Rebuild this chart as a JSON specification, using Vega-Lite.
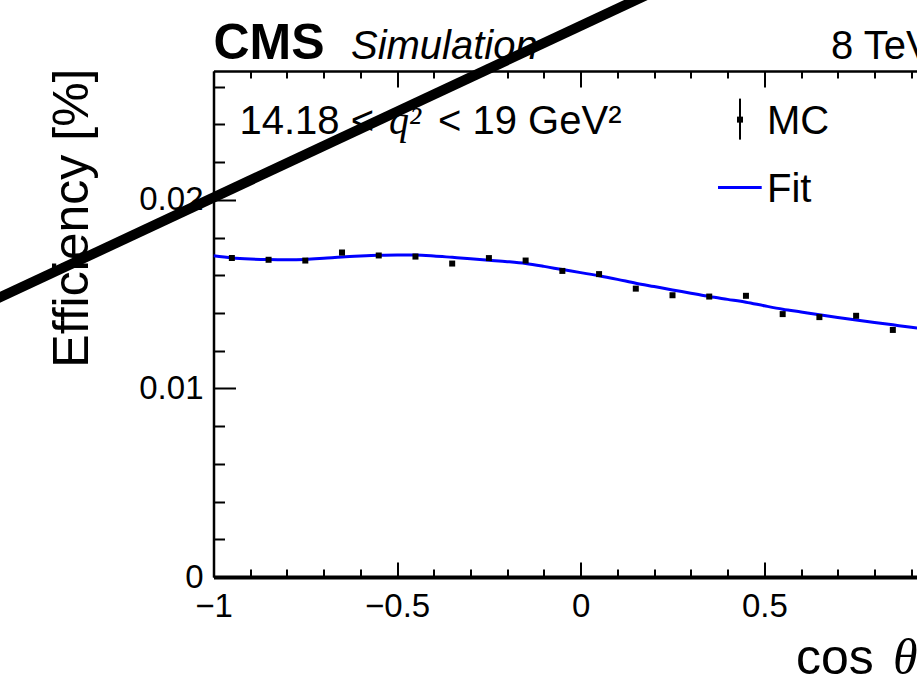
{
  "$schema": "https://vega.github.io/schema/vega-lite/v6.json",
  "width": 703.5,
  "height": 506,
  "autosize": {"type": "none"},
  "padding": {"left": 213.5, "top": 71, "right": 0, "bottom": 107},
  "background": "white",
  "config": {
    "view": {"stroke": null},
    "font": "Liberation Sans",
    "axis": {"labelFont": "Liberation Sans", "titleFont": "Liberation Sans", "labelColor": "black", "titleColor": "black", "domainColor": "black", "tickColor": "black", "grid": false}
  },
  "datasets": {
    "mc": [
      {"cos": -0.95, "eff": 0.01691},
      {"cos": -0.85, "eff": 0.01682},
      {"cos": -0.75, "eff": 0.01678},
      {"cos": -0.65, "eff": 0.01720},
      {"cos": -0.55, "eff": 0.01705},
      {"cos": -0.45, "eff": 0.01699},
      {"cos": -0.35, "eff": 0.01662},
      {"cos": -0.25, "eff": 0.01691},
      {"cos": -0.15, "eff": 0.01678},
      {"cos": -0.05, "eff": 0.01623},
      {"cos": 0.05, "eff": 0.01606},
      {"cos": 0.15, "eff": 0.01529},
      {"cos": 0.25, "eff": 0.01494},
      {"cos": 0.35, "eff": 0.01487},
      {"cos": 0.45, "eff": 0.01491},
      {"cos": 0.55, "eff": 0.01394},
      {"cos": 0.65, "eff": 0.01378},
      {"cos": 0.75, "eff": 0.01385},
      {"cos": 0.85, "eff": 0.01310}
    ],
    "fit": [
      {"cos": -1.0, "eff": 0.01703},
      {"cos": -0.95, "eff": 0.01692},
      {"cos": -0.9, "eff": 0.01686},
      {"cos": -0.85, "eff": 0.01683},
      {"cos": -0.8, "eff": 0.01682},
      {"cos": -0.75, "eff": 0.01684},
      {"cos": -0.7, "eff": 0.01690},
      {"cos": -0.65, "eff": 0.01697},
      {"cos": -0.6, "eff": 0.01702},
      {"cos": -0.55, "eff": 0.01706},
      {"cos": -0.5, "eff": 0.01708},
      {"cos": -0.45, "eff": 0.01707},
      {"cos": -0.4, "eff": 0.01702},
      {"cos": -0.35, "eff": 0.01695},
      {"cos": -0.3, "eff": 0.01688},
      {"cos": -0.25, "eff": 0.01680},
      {"cos": -0.2, "eff": 0.01672},
      {"cos": -0.15, "eff": 0.01662},
      {"cos": -0.1, "eff": 0.01647},
      {"cos": -0.05, "eff": 0.01630},
      {"cos": 0.0, "eff": 0.01614},
      {"cos": 0.05, "eff": 0.01597},
      {"cos": 0.1, "eff": 0.01578},
      {"cos": 0.15, "eff": 0.01558},
      {"cos": 0.2, "eff": 0.01540},
      {"cos": 0.25, "eff": 0.01522},
      {"cos": 0.3, "eff": 0.01505},
      {"cos": 0.35, "eff": 0.01487},
      {"cos": 0.4, "eff": 0.01472},
      {"cos": 0.45, "eff": 0.01457},
      {"cos": 0.5, "eff": 0.01438},
      {"cos": 0.55, "eff": 0.01420},
      {"cos": 0.6, "eff": 0.01405},
      {"cos": 0.65, "eff": 0.01390},
      {"cos": 0.7, "eff": 0.01376},
      {"cos": 0.75, "eff": 0.01363},
      {"cos": 0.8, "eff": 0.01350},
      {"cos": 0.85, "eff": 0.01337},
      {"cos": 0.9, "eff": 0.01324},
      {"cos": 0.95, "eff": 0.01312}
    ],
    "stroke": [
      {"cos": -1.6359, "eff": 0.014332},
      {"cos": 0.2067, "eff": 0.031108}
    ],
    "one": [{}]
  },
  "resolve": {"axis": {"x": "independent", "y": "independent"}},
  "layer": [
    {
      "data": {"name": "fit"},
      "mark": {"type": "line", "interpolate": "monotone", "stroke": "#0000ff", "strokeWidth": 3, "clip": true},
      "encoding": {
        "x": {"field": "cos", "type": "quantitative",
          "scale": {"domain": [-1, 0.9158], "nice": false, "zero": false},
          "axis": {"orient": "top", "title": null, "labels": false,
            "values": [-1,-0.9,-0.8,-0.7,-0.6,-0.5,-0.4,-0.3,-0.2,-0.1,0,0.1,0.2,0.3,0.4,0.5,0.6,0.7,0.8,0.9],
            "tickSize": {"condition": {"test": "datum.value == -1 || datum.value == -0.5 || datum.value == 0 || datum.value == 0.5", "value": -16}, "value": -7},
            "tickWidth": 2, "domainWidth": 2.5}},
        "y": {"field": "eff", "type": "quantitative",
          "scale": {"domain": [0, 0.02683], "nice": false, "zero": false},
          "axis": {"orient": "left", "title": "Efficiency [%]", "titleFontSize": 50, "titleFontWeight": "normal",
            "titleAngle": -90, "titleAlign": "right", "titleBaseline": "alphabetic", "titleX": -126, "titleY": -3,
            "values": [0, 0.01, 0.02],
            "labelExpr": "datum.value == 0 ? '0' : datum.value == 0.01 ? '0.01' : '0.02'",
            "labelFontSize": 33, "labelFlush": false, "labelOverlap": false, "labelBound": false,
            "labelPadding": 32.5, "labelBaseline": "middle",
            "tickSize": -22,
            "tickWidth": 2, "domainWidth": 2.5}}
      }
    },
    {
      "data": {"name": "mc"},
      "mark": {"type": "point", "shape": "square", "filled": true, "color": "black", "size": 36, "opacity": 1, "clip": true},
      "encoding": {
        "x": {"field": "cos", "type": "quantitative",
          "scale": {"domain": [-1, 0.9158], "nice": false, "zero": false},
          "axis": {"orient": "bottom", "title": null,
            "values": [-1,-0.9,-0.8,-0.7,-0.6,-0.5,-0.4,-0.3,-0.2,-0.1,0,0.1,0.2,0.3,0.4,0.5,0.6,0.7,0.8,0.9],
            "labelExpr": "datum.value == -1 ? '−1' : datum.value == -0.5 ? '−0.5' : datum.value == 0 ? '0' : datum.value == 0.5 ? '0.5' : ''",
            "labelFontSize": 33, "labelFlush": false, "labelOverlap": false, "labelBound": false,
            "labelPadding": 28.5, "labelBaseline": "top",
            "tickSize": {"condition": {"test": "datum.value == -1 || datum.value == -0.5 || datum.value == 0 || datum.value == 0.5", "value": -15}, "value": -8},
            "tickWidth": 2, "domainWidth": 4}},
        "y": {"field": "eff", "type": "quantitative",
          "scale": {"domain": [0, 0.02683], "nice": false, "zero": false},
          "axis": {"orient": "left", "title": null, "labels": false, "domain": false,
            "values": [0.002,0.004,0.006,0.008,0.012,0.014,0.016,0.018,0.022,0.024,0.026],
            "tickSize": -11, "tickWidth": 2}}
      }
    },
    {
      "data": {"name": "one"},
      "mark": {"type": "text", "text": "cos", "font": "Liberation Sans", "fontSize": 50, "align": "left", "baseline": "alphabetic", "clip": false},
      "encoding": {"x": {"datum": 0.5863, "type": "quantitative", "axis": null}, "y": {"datum": -0.005159, "type": "quantitative", "axis": null}}
    },
    {
      "data": {"name": "one"},
      "mark": {"type": "text", "text": "θ", "font": "Liberation Serif", "fontStyle": "italic", "fontSize": 50, "align": "left", "baseline": "alphabetic", "clip": false},
      "encoding": {"x": {"datum": 0.8505, "type": "quantitative", "axis": null}, "y": {"datum": -0.005159, "type": "quantitative", "axis": null}}
    },
    {
      "data": {"name": "one"},
      "mark": {"type": "text", "text": "CMS", "font": "Liberation Sans", "fontWeight": "bold", "fontSize": 50, "align": "left", "baseline": "alphabetic", "clip": false},
      "encoding": {"x": {"datum": -1.0, "type": "quantitative", "axis": null}, "y": {"datum": 0.027487, "type": "quantitative", "axis": null}}
    },
    {
      "data": {"name": "one"},
      "mark": {"type": "text", "text": "Simulation", "font": "Liberation Sans", "fontStyle": "italic", "fontSize": 40, "align": "left", "baseline": "alphabetic", "clip": false},
      "encoding": {"x": {"datum": -0.6256, "type": "quantitative", "axis": null}, "y": {"datum": 0.027487, "type": "quantitative", "axis": null}}
    },
    {
      "data": {"name": "one"},
      "mark": {"type": "text", "text": "8 TeV", "font": "Liberation Sans", "fontSize": 40, "align": "left", "baseline": "alphabetic", "clip": false},
      "encoding": {"x": {"datum": 0.6816, "type": "quantitative", "axis": null}, "y": {"datum": 0.027487, "type": "quantitative", "axis": null}}
    },
    {
      "data": {"name": "one"},
      "mark": {"type": "text", "text": "14.18 <", "font": "Liberation Sans", "fontSize": 40, "align": "left", "baseline": "alphabetic", "clip": false},
      "encoding": {"x": {"datum": -0.9292, "type": "quantitative", "axis": null}, "y": {"datum": 0.02351, "type": "quantitative", "axis": null}}
    },
    {
      "data": {"name": "one"},
      "mark": {"type": "text", "text": "q²", "font": "Liberation Serif", "fontStyle": "italic", "fontSize": 40, "align": "left", "baseline": "alphabetic", "clip": false},
      "encoding": {"x": {"datum": -0.5221, "type": "quantitative", "axis": null}, "y": {"datum": 0.02351, "type": "quantitative", "axis": null}}
    },
    {
      "data": {"name": "one"},
      "mark": {"type": "text", "text": "< 19 GeV²", "font": "Liberation Sans", "fontSize": 40, "align": "left", "baseline": "alphabetic", "clip": false},
      "encoding": {"x": {"datum": -0.3886, "type": "quantitative", "axis": null}, "y": {"datum": 0.02351, "type": "quantitative", "axis": null}}
    },
    {
      "data": {"name": "one"},
      "mark": {"type": "rule", "color": "black", "strokeWidth": 2, "clip": false},
      "encoding": {"x": {"datum": 0.4338, "type": "quantitative", "axis": null}, "y": {"datum": 0.025366, "type": "quantitative", "axis": null}, "y2": {"datum": 0.023192}}
    },
    {
      "data": {"name": "one"},
      "mark": {"type": "point", "shape": "square", "filled": true, "color": "black", "size": 36, "opacity": 1, "clip": false},
      "encoding": {"x": {"datum": 0.4338, "type": "quantitative", "axis": null}, "y": {"datum": 0.024252, "type": "quantitative", "axis": null}}
    },
    {
      "data": {"name": "one"},
      "mark": {"type": "text", "text": "MC", "font": "Liberation Sans", "fontSize": 40, "align": "left", "baseline": "alphabetic", "clip": false},
      "encoding": {"x": {"datum": 0.5074, "type": "quantitative", "axis": null}, "y": {"datum": 0.02351, "type": "quantitative", "axis": null}}
    },
    {
      "data": {"name": "one"},
      "mark": {"type": "rule", "color": "#0000ff", "strokeWidth": 3, "clip": false},
      "encoding": {"x": {"datum": 0.3739, "type": "quantitative", "axis": null}, "x2": {"datum": 0.4929}, "y": {"datum": 0.020647, "type": "quantitative", "axis": null}}
    },
    {
      "data": {"name": "one"},
      "mark": {"type": "text", "text": "Fit", "font": "Liberation Sans", "fontSize": 40, "align": "left", "baseline": "alphabetic", "clip": false},
      "encoding": {"x": {"datum": 0.5074, "type": "quantitative", "axis": null}, "y": {"datum": 0.019883, "type": "quantitative", "axis": null}}
    },
    {
      "data": {"name": "stroke"},
      "mark": {"type": "line", "color": "black", "strokeWidth": 10, "clip": false},
      "encoding": {
        "x": {"field": "cos", "type": "quantitative", "axis": null},
        "y": {"field": "eff", "type": "quantitative", "axis": null}
      }
    }
  ]
}
